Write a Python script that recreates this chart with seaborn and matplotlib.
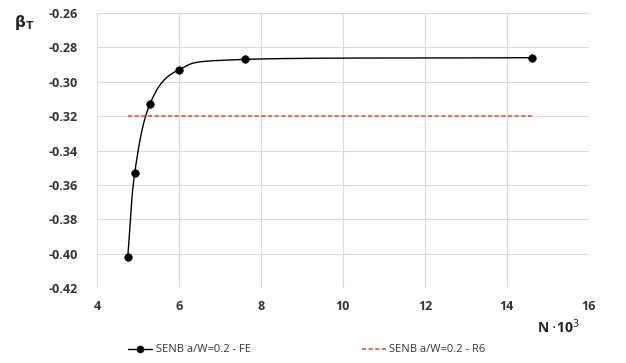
import numpy as np
import pandas as pd
import matplotlib
matplotlib.use("Agg")
import matplotlib.pyplot as plt
import seaborn as sns
from matplotlib.lines import Line2D

# data
n_fe = [4.75, 4.92, 5.29, 6.0, 7.6, 14.6]
beta_fe = [-0.402, -0.353, -0.313, -0.293, -0.287, -0.286]
n_r6 = [4.75, 14.6]
beta_r6 = [-0.32, -0.32]
x_ticks = [4, 6, 8, 10, 12, 14, 16]
y_ticks = [-0.42, -0.40, -0.38, -0.36, -0.34, -0.32, -0.30, -0.28, -0.26]

sns.set_style("white")
plt.rcParams['font.family'] = ['Open Sans', 'DejaVu Sans']

def catmull_rom(x, y, n=40):
    x = np.asarray(x, float); y = np.asarray(y, float)
    px = np.concatenate([[2*x[0]-x[1]], x, [2*x[-1]-x[-2]]])
    py = np.concatenate([[2*y[0]-y[1]], y, [2*y[-1]-y[-2]]])
    xs, ys = [], []
    for i in range(1, len(px)-2):
        t = np.linspace(0, 1, n)
        for arr, out in ((px, xs), (py, ys)):
            p0, p1, p2, p3 = arr[i-1], arr[i], arr[i+1], arr[i+2]
            out.extend(0.5*((2*p1) + (-p0+p2)*t + (2*p0-5*p1+4*p2-p3)*t**2 + (-p0+3*p1-3*p2+p3)*t**3))
    return np.array(xs), np.array(ys)

sx, sy = catmull_rom(n_fe, beta_fe)

fig = plt.figure(figsize=(6.26, 3.63), dpi=100)
ax = fig.add_axes([97/626, 1-288/363, (589-97)/626, (288-13)/363])

sns.lineplot(x=sx, y=sy, ax=ax, color='black', lw=1.0, sort=False, estimator=None)
sns.scatterplot(x=n_fe, y=beta_fe, ax=ax, color='black', s=30, edgecolor='black', zorder=5)
sns.lineplot(x=n_r6, y=beta_r6, ax=ax, color='#d9534f', lw=1.2, linestyle=(0, (2.5, 1.5)), estimator=None)

ax.set_xlim(4, 16)
ax.set_ylim(-0.42, -0.26)
ax.set_xticks(x_ticks)
ax.set_yticks(y_ticks)
ax.set_xticklabels([str(t) for t in x_ticks])
ax.set_yticklabels([f"{t:.2f}" for t in y_ticks])
ax.grid(True, color='#d9d9d9', lw=0.8)
for s in ax.spines.values():
    s.set_visible(False)
ax.tick_params(axis='x', length=0, labelsize=9, colors='#333333', pad=9)
ax.tick_params(axis='y', length=0, labelsize=9, colors='#333333', pad=14)
for lab in ax.get_xticklabels() + ax.get_yticklabels():
    lab.set_fontweight('bold')

fig.text(14/626, 1-22/363, r"$\mathbf{\beta}_\mathbf{T}$", fontsize=11, color='#222222', ha='left', va='center')
fig.text(558/626, 1-327/363, r"N $\cdot$10$^3$", fontsize=10, fontweight='bold', color='#222222', ha='center', va='center')

h1 = Line2D([], [], color='black', marker='o', markersize=4.5, lw=1)
h2 = Line2D([], [], color='#d9534f', lw=1.2, linestyle=(0, (2.5, 1.5)))
fig.legend([h1, h2], ["SENB a/W=0.2 - FE", "SENB a/W=0.2 - R6"], loc='center', bbox_to_anchor=(0.49, 1-350/363),
           ncol=2, frameon=False, fontsize=8, columnspacing=10, handlelength=2.2, handletextpad=0.3, labelcolor='#333333')

fig.savefig("out.png", dpi=100)
